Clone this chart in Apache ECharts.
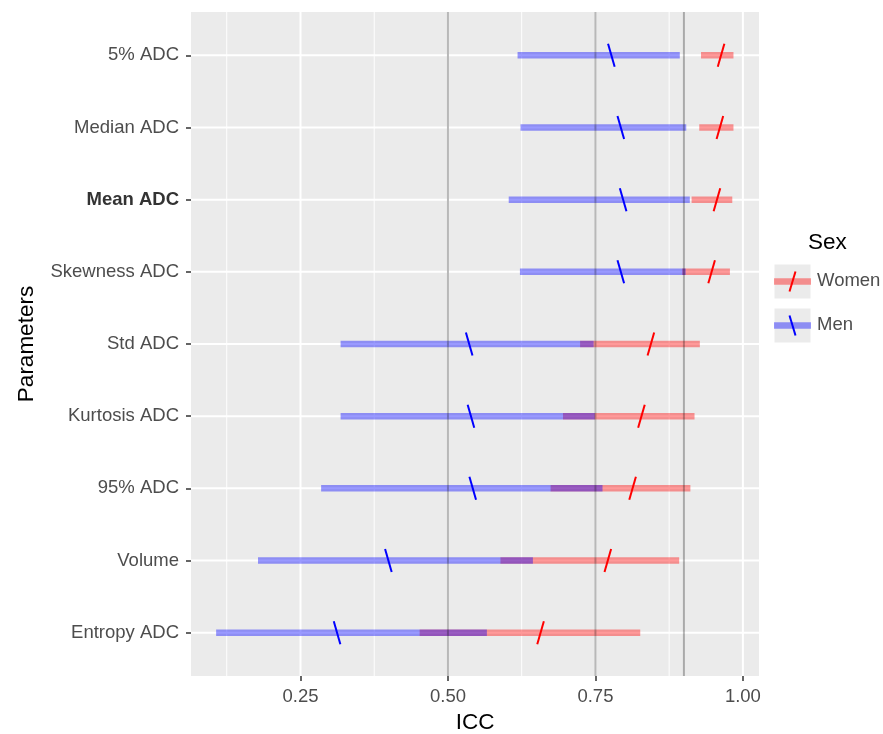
<!DOCTYPE html>
<html>
<head>
<meta charset="utf-8">
<script src="https://cdn.jsdelivr.net/npm/echarts@6.0.0/dist/echarts.min.js"></script>
<style>
  html, body { margin: 0; padding: 0; background: #ffffff; }
  #chart { width: 883px; height: 734px; }
</style>
</head>
<body>
<div id="chart"></div>
<script>
// ---------- data ----------
const categories = ['5% ADC', 'Median ADC', 'Mean ADC', 'Skewness ADC', 'Std ADC',
                    'Kurtosis ADC', '95% ADC', 'Volume', 'Entropy ADC'];
const boldCategories = ['Mean ADC'];
const menLow    = [0.618, 0.623, 0.603, 0.622, 0.318, 0.318, 0.285, 0.178, 0.107];
const menHigh   = [0.893, 0.904, 0.910, 0.903, 0.747, 0.749, 0.762, 0.644, 0.566];
const menEst    = [0.777, 0.793, 0.797, 0.793, 0.536, 0.539, 0.542, 0.399, 0.312];
const womenLow  = [0.929, 0.926, 0.913, 0.897, 0.724, 0.695, 0.674, 0.589, 0.452];
const womenHigh = [0.984, 0.984, 0.982, 0.978, 0.927, 0.918, 0.911, 0.892, 0.826];
const womenEst  = [0.963, 0.961, 0.956, 0.947, 0.844, 0.828, 0.813, 0.771, 0.657];
const refLines  = [0.50, 0.75, 0.90];
const xTicks      = [0.25, 0.50, 0.75, 1.00];
const xTickLabels = ['0.25', '0.50', '0.75', '1.00'];
const xMinorTicks = [0.125, 0.375, 0.625, 0.875];
const seriesNames = ['Women', 'Men'];
const legendTitle = 'Sex';
const xTitle = 'ICC';
const yTitle = 'Parameters';

// ---------- rendering ----------
const FONT = '"Liberation Sans", Arial, Helvetica, sans-serif';
const PANEL = '#EBEBEB';
const RED_BAR = 'rgba(255,0,0,0.4)';
const BLUE_BAR = 'rgba(0,0,255,0.4)';
const X_MIN = 0.0644, X_MAX = 1.0273;
const Y_MIN = -0.6, Y_MAX = categories.length - 1 + 0.6;
const catIdx = categories.map((c, i) => i);

const chart = echarts.init(document.getElementById('chart'), null, { renderer: 'canvas' });

function vLineItem(width, color) {
  return function (params, api) {
    const v = api.value(0);
    const a = api.coord([v, Y_MIN]);
    const b = api.coord([v, Y_MAX]);
    return { type: 'line', shape: { x1: a[0], y1: a[1], x2: b[0], y2: b[1] },
             style: { stroke: color, lineWidth: width } };
  };
}
function hLineItem(width, color) {
  return function (params, api) {
    const y = api.value(0);
    const a = api.coord([X_MIN, y]);
    const b = api.coord([X_MAX, y]);
    return { type: 'line', shape: { x1: a[0], y1: a[1], x2: b[0], y2: b[1] },
             style: { stroke: color, lineWidth: width } };
  };
}
function barItem(color) {
  return function (params, api) {
    const y = api.value(2);
    const a = api.coord([api.value(0), y]);
    const b = api.coord([api.value(1), y]);
    return { type: 'line', shape: { x1: a[0], y1: a[1], x2: b[0], y2: b[1] },
             style: { stroke: color, lineWidth: 6.5, lineCap: 'butt' } };
  };
}
function slashItem(color, dir) {
  // dir = 1 for "/" , -1 for "\"
  return function (params, api) {
    const c = api.coord([api.value(0), api.value(1)]);
    const dx = 3.3, dy = 11.5;
    return { type: 'line',
             shape: { x1: c[0] - dx, y1: c[1] + dir * dy, x2: c[0] + dx, y2: c[1] - dir * dy },
             style: { stroke: color, lineWidth: 2 } };
  };
}

const commonCustom = { type: 'custom', silent: true, animation: false, clip: false };

const option = {
  animation: false,
  grid: {
    left: 191, right: 124, top: 12, bottom: 58,
    outerBoundsMode: 'none', containLabel: false,
    show: true, backgroundColor: PANEL, borderWidth: 0
  },
  xAxis: {
    type: 'value', min: X_MIN, max: X_MAX, z: 10,
    name: xTitle, nameLocation: 'middle', nameGap: 30,
    nameTextStyle: { fontFamily: FONT, fontSize: 22.5, color: '#000' },
    axisLine: { show: false, onZero: false },
    splitLine: { show: false },
    axisTick: { show: true, customValues: xTicks, length: 5, lineStyle: { color: '#333', width: 1.5 } },
    axisLabel: {
      customValues: xTicks, margin: 11,
      fontFamily: FONT, fontSize: 18.5, color: '#4D4D4D',
      formatter: function (v) {
        const k = xTicks.findIndex(t => Math.abs(t - v) < 1e-6);
        return k >= 0 ? xTickLabels[k] : '';
      }
    }
  },
  yAxis: {
    type: 'value', min: Y_MIN, max: Y_MAX, inverse: true, z: 10,
    name: yTitle, nameLocation: 'middle', nameGap: 153, nameRotate: 90,
    nameTextStyle: { fontFamily: FONT, fontSize: 22.5, color: '#000' },
    axisLine: { show: false, onZero: false },
    splitLine: { show: false },
    axisTick: { show: true, customValues: catIdx, length: 5, lineStyle: { color: '#333', width: 1.5 } },
    axisLabel: {
      customValues: catIdx, margin: 12,
      fontFamily: FONT, fontSize: 18.5, color: '#4D4D4D',
      formatter: function (v) {
        const name = categories[Math.round(v)] || '';
        return boldCategories.indexOf(name) >= 0 ? '{b|' + name + '}' : name;
      },
      rich: { b: { fontFamily: FONT, fontSize: 18.5, fontWeight: 'bold', color: '#333' } }
    }
  },
  series: [
    Object.assign({}, commonCustom, { name: 'minorGrid', z: 1, renderItem: vLineItem(1, '#FFFFFF'),
      encode: { x: 0 }, data: xMinorTicks.map(v => [v]) }),
    Object.assign({}, commonCustom, { name: 'majorGridX', z: 1, renderItem: vLineItem(2, '#FFFFFF'),
      encode: { x: 0 }, data: xTicks.map(v => [v]) }),
    Object.assign({}, commonCustom, { name: 'majorGridY', z: 1, renderItem: hLineItem(2, '#FFFFFF'),
      encode: { y: 0 }, data: catIdx.map(v => [v]) }),
    Object.assign({}, commonCustom, { name: seriesNames[0] + ' CI', z: 2, renderItem: barItem(RED_BAR),
      encode: { x: [0, 1], y: 2 },
      data: categories.map((c, i) => [womenLow[i], womenHigh[i], i]) }),
    Object.assign({}, commonCustom, { name: seriesNames[1] + ' CI', z: 3, renderItem: barItem(BLUE_BAR),
      encode: { x: [0, 1], y: 2 },
      data: categories.map((c, i) => [menLow[i], menHigh[i], i]) }),
    Object.assign({}, commonCustom, { name: 'ref', z: 4, renderItem: vLineItem(2, 'rgba(0,0,0,0.28)'),
      encode: { x: 0 }, data: refLines.map(v => [v]) }),
    Object.assign({}, commonCustom, { name: seriesNames[0], z: 5, renderItem: slashItem('#FF0000', 1),
      encode: { x: 0, y: 1 }, data: categories.map((c, i) => [womenEst[i], i]) }),
    Object.assign({}, commonCustom, { name: seriesNames[1], z: 5, renderItem: slashItem('#0000FF', -1),
      encode: { x: 0, y: 1 }, data: categories.map((c, i) => [menEst[i], i]) })
  ],
  graphic: (function () {
    const keyX = 774, keyW = 37, keyH = 35;
    const keys = [
      { name: seriesNames[0], top: 264, bar: RED_BAR, mark: '#FF0000', dir: 1 },
      { name: seriesNames[1], top: 308, bar: BLUE_BAR, mark: '#0000FF', dir: -1 }
    ];
    const els = [{
      type: 'text', left: 808, top: 231, silent: true,
      style: { text: legendTitle, font: '22.5px ' + FONT, fill: '#000' }
    }];
    keys.forEach(k => {
      const cy = k.top + keyH / 2, cx = keyX + keyW / 2;
      els.push({ type: 'rect', silent: true, shape: { x: keyX, y: k.top, width: keyW, height: keyH },
                 style: { fill: PANEL, stroke: '#FFFFFF', lineWidth: 1 } });
      els.push({ type: 'line', silent: true, shape: { x1: keyX, y1: cy, x2: keyX + keyW, y2: cy },
                 style: { stroke: k.bar, lineWidth: 6.5 } });
      els.push({ type: 'line', silent: true,
                 shape: { x1: cx - 3, y1: cy + k.dir * 10, x2: cx + 3, y2: cy - k.dir * 10 },
                 style: { stroke: k.mark, lineWidth: 2 } });
      els.push({ type: 'text', silent: true, x: 817, y: cy - 1,
                 style: { text: k.name, font: '18.5px ' + FONT, fill: '#4D4D4D', verticalAlign: 'middle' } });
    });
    return els;
  })()
};

chart.setOption(option);
</script>
</body>
</html>
